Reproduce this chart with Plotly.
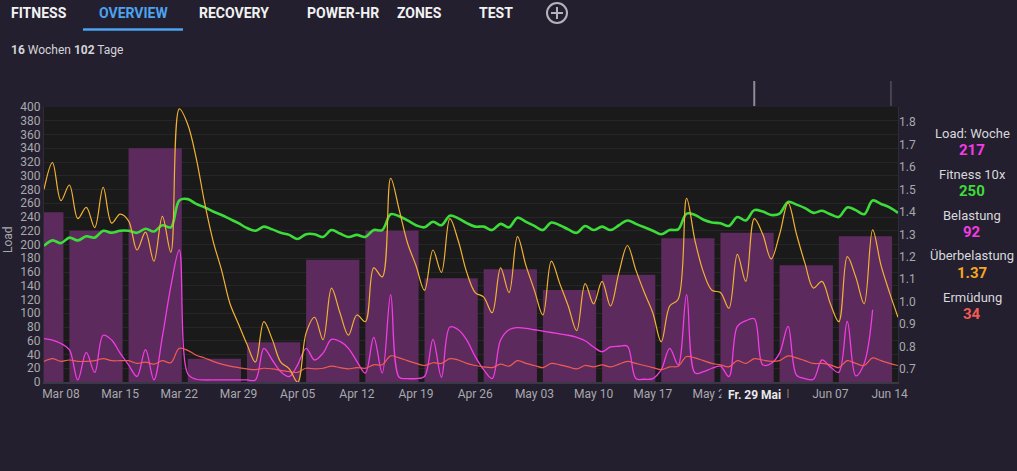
import pandas as pd
import plotly.graph_objects as go

# daily series, 2020-03-06 .. 2020-06-15
days = pd.date_range("2020-03-06", "2020-06-15", freq="D")
# weekly load bars start on mondays
weeks = pd.date_range("2020-03-02", periods=15, freq="7D")

week_load = [247, 220, 340, 34, 58, 178, 220, 151, 164, 134, 156, 209, 217, 170, 212]

fitness_10x = [
    198, 206, 202, 210, 206, 212, 210, 220, 217, 220,
    220, 217, 223, 219, 228, 225, 264, 266, 259, 254,
    248, 243, 237, 231, 224, 220, 226, 222, 217, 214,
    208, 215, 215, 211, 221, 216, 211, 214, 211, 221,
    221, 244, 241, 235, 228, 225, 233, 228, 242, 238,
    231, 226, 226, 221, 230, 225, 239, 233, 227, 221,
    232, 228, 222, 217, 227, 221, 226, 221, 228, 235,
    230, 225, 220, 215, 221, 222, 245, 243, 236, 232,
    231, 227, 240, 235, 250, 248, 243, 245, 262, 258,
    253, 246, 249, 244, 240, 254, 250, 244, 264, 259,
    254, 246,
]

overload = [
    1.50, 1.62, 1.45, 1.52, 1.37, 1.42, 1.33, 1.51, 1.35, 1.39,
    1.36, 1.23, 1.31, 1.18, 1.38, 1.22, 1.86, 1.79, 1.64, 1.44,
    1.27, 1.14, 0.99, 0.90, 0.81, 0.73, 0.91, 0.83, 0.73, 0.70,
    0.64, 0.86, 0.93, 0.83, 1.06, 0.95, 0.85, 0.94, 0.91, 1.15,
    1.11, 1.55, 1.41, 1.26, 1.16, 1.05, 1.23, 1.13, 1.37, 1.27,
    1.13, 1.04, 1.02, 0.95, 1.15, 1.04, 1.29, 1.16, 1.05, 0.94,
    1.18, 1.08, 0.98, 0.87, 1.08, 0.99, 1.09, 0.98, 1.13, 1.25,
    1.14, 1.04, 0.95, 0.82, 0.98, 1.01, 1.46, 1.27, 1.13, 1.05,
    1.04, 0.97, 1.21, 1.09, 1.37, 1.30, 1.19, 1.30, 1.44, 1.30,
    1.17, 1.06, 1.09, 0.99, 0.91, 1.20, 1.11, 0.99, 1.32, 1.16,
    1.04, 0.93,
]

# Belastung stops at Jun 12
strain = [
    63, 61, 56, 47, 3, 43, 14, 68, 61, 42,
    25, 8, 47, 3, 66, 139, 192, 12, 4, 3,
    3, 3, 3, 3, 3, 3, 49, 32, 15, 8,
    25, 49, 32, 42, 62, 59, 49, 30, 13, 65,
    13, 127, 7, 5, 5, 8, 62, 7, 80, 76,
    61, 37, 18, 5, 61, 76, 79, 78, 76, 74,
    72, 70, 68, 65, 60, 51, 44, 51, 52, 52,
    5, 4, 5, 18, 49, 25, 127, 13, 15, 20,
    23, 8, 81, 89, 92, 25, 27, 42, 81, 10,
    5, 4, 32, 22, 14, 88, 9, 27, 105,
]

fatigue = [
    30, 34, 30, 32, 30, 30, 31, 34, 31, 31,
    31, 27, 29, 26, 31, 28, 49, 46, 39, 35,
    30, 26, 23, 21, 19, 18, 20, 19, 17, 15,
    14, 20, 19, 20, 23, 21, 19, 21, 20, 25,
    25, 38, 35, 31, 27, 24, 28, 27, 34, 32,
    27, 24, 22, 21, 26, 23, 31, 27, 24, 21,
    27, 25, 22, 19, 24, 22, 25, 22, 26, 30,
    27, 24, 21, 18, 22, 23, 37, 35, 31, 27,
    25, 22, 31, 27, 34, 32, 30, 31, 38, 35,
    31, 27, 27, 25, 21, 31, 27, 24, 35, 31,
    27, 24,
]

tabs = ["FITNESS", "OVERVIEW", "RECOVERY", "POWER-HR", "ZONES", "TEST"]
panel_labels = ["Load: Woche", "Fitness 10x", "Belastung", "Überbelastung", "Ermüdung"]

# selected day (hover) -> values shown in the side panel
sel = pd.Timestamp("2020-05-29")
i = list(days).index(sel)
w = [k for k, d in enumerate(weeks) if d <= sel][-1]
panel_values = [str(week_load[w]), str(fitness_10x[i]), str(strain[i]),
                "%.2f" % overload[i], str(fatigue[i])]

PAPER = "#231f2e"
PLOT = "#1a1a1a"
TXT = "#a8a8ad"
C_BAR = "#5c2a5c"
C_GREEN = "#3ddc3a"
C_YEL = "#f2b233"
C_MAG = "#f23ce4"
C_RED = "#ef5b55"

W, H = 1017, 471
L, T = 44, 107
R, B = W - 898, H - 382
PW, PH = W - L - R, H - T - B


def px(x):
    # page pixel -> paper x
    return (x - L) / PW


def py(y):
    # page pixel -> paper y
    return (H - B - y) / PH


DAY = 86400000

fig = go.Figure()
fig.add_trace(go.Bar(x=weeks, y=week_load, width=6.3 * DAY, offset=0,
                     marker=dict(color=C_BAR, line_width=0), name="Load: Woche"))
fig.add_trace(go.Scatter(x=days[:len(strain)], y=strain, mode="lines",
                         line=dict(color=C_MAG, width=1.3, shape="spline"), name="Belastung"))
fig.add_trace(go.Scatter(x=days, y=fatigue, mode="lines",
                         line=dict(color=C_RED, width=1.2, shape="spline"), name="Ermüdung"))
fig.add_trace(go.Scatter(x=days, y=fitness_10x, mode="lines",
                         line=dict(color=C_GREEN, width=2.6, shape="spline"), name="Fitness 10x"))
fig.add_trace(go.Scatter(x=days, y=overload, mode="lines", yaxis="y2",
                         line=dict(color=C_YEL, width=1.2, shape="spline"), name="Überbelastung"))

ann = []
tab_x = [39, 133, 234, 343, 419, 496]
for t, x in zip(tabs, tab_x):
    ann.append(dict(x=px(x), y=py(13), xref="paper", yref="paper", text="<b>%s</b>" % t,
                    xanchor="center", yanchor="middle", showarrow=False,
                    font=dict(size=14, color="#4da3f0" if t == "OVERVIEW" else "#f2f2f2")))
ann.append(dict(x=px(9), y=py(50), xref="paper", yref="paper", xanchor="left", yanchor="middle",
                text="<b>16</b> Wochen <b>102</b> Tage", showarrow=False,
                font=dict(size=12, color="#d4d4d8")))
ann.append(dict(x=px(8), y=py(240), xref="paper", yref="paper", text="Load", textangle=-90,
                xanchor="center", yanchor="middle", showarrow=False,
                font=dict(size=12, color=TXT)))

val_colors = [C_MAG, C_GREEN, C_MAG, "#f5a623", C_RED]
for k, (lab, val) in enumerate(zip(panel_labels, panel_values)):
    y0 = 133 + k * 41
    ann.append(dict(x=px(972), y=py(y0), xref="paper", yref="paper", text=lab,
                    xanchor="center", yanchor="middle", showarrow=False,
                    font=dict(size=13, color="#d8d8dc")))
    ann.append(dict(x=px(972), y=py(y0 + 17), xref="paper", yref="paper", text="<b>%s</b>" % val,
                    xanchor="center", yanchor="middle", showarrow=False,
                    font=dict(size=15, color=val_colors[k])))

# hover date label sits over the x tick labels, like in the app
ann.append(dict(x=sel, y=py(395), xref="x", yref="paper", text="&nbsp;<b>Fr. 29 Mai</b>&nbsp;",
                xanchor="center", yanchor="middle", showarrow=False, bgcolor=PAPER, borderpad=3,
                font=dict(size=12, color="#e8e8ea")))

shapes = [
    dict(type="line", xref="paper", yref="paper", x0=px(83), x1=px(183), y0=py(29.5), y1=py(29.5),
         line=dict(color="#4da3f0", width=2.5)),
    dict(type="circle", xref="paper", yref="paper", x0=px(547), x1=px(567), y0=py(23), y1=py(3),
         line=dict(color="#b4b4bc", width=2)),
    dict(type="line", xref="paper", yref="paper", x0=px(551), x1=px(563), y0=py(13), y1=py(13),
         line=dict(color="#b4b4bc", width=2)),
    dict(type="line", xref="paper", yref="paper", x0=px(557), x1=px(557), y0=py(7), y1=py(19),
         line=dict(color="#b4b4bc", width=2)),
    dict(type="line", xref="x", yref="paper", x0=sel, x1=sel, y0=py(81), y1=py(106),
         line=dict(color="#8e8c96", width=2)),
    dict(type="line", xref="x", yref="paper", x0="2020-06-14 04:00", x1="2020-06-14 04:00",
         y0=py(81), y1=py(106), line=dict(color="#46444f", width=2)),
]

fig.update_layout(
    width=W, height=H,
    margin=dict(l=L, r=R, t=T, b=B, autoexpand=False),
    paper_bgcolor=PAPER, plot_bgcolor=PLOT,
    font=dict(family="Roboto", color=TXT, size=12),
    showlegend=False, hovermode=False, barmode="overlay",
    annotations=ann, shapes=shapes,
    xaxis=dict(type="date", range=["2020-03-06", "2020-06-15"], automargin=False,
               tick0="2020-03-08", dtick=7 * DAY, tickformat="%b %d",
               showgrid=False, zeroline=False, showline=True, linecolor="#3a3846", linewidth=2,
               tickfont=dict(size=12, color=TXT)),
    yaxis=dict(range=[0, 400], dtick=20, gridcolor="#262628", gridwidth=1, zeroline=False,
               automargin=False, showline=True, linecolor="#2e2c38", mirror=True,
               tickfont=dict(size=12, color=TXT)),
    yaxis2=dict(overlaying="y", side="right", range=[0.641, 1.868], automargin=False,
                tickvals=[0.7, 0.8, 0.9, 1.0, 1.1, 1.2, 1.3, 1.4, 1.5, 1.6, 1.7, 1.8],
                tickformat=".1f", showgrid=False, zeroline=False,
                tickfont=dict(size=12, color=TXT)),
)

# the page would otherwise add the default 8px body margin around the figure
fig.write_html("out.html", config={"displayModeBar": False},
               post_script="document.body.style.margin='0';document.body.style.background='%s';" % PAPER)
